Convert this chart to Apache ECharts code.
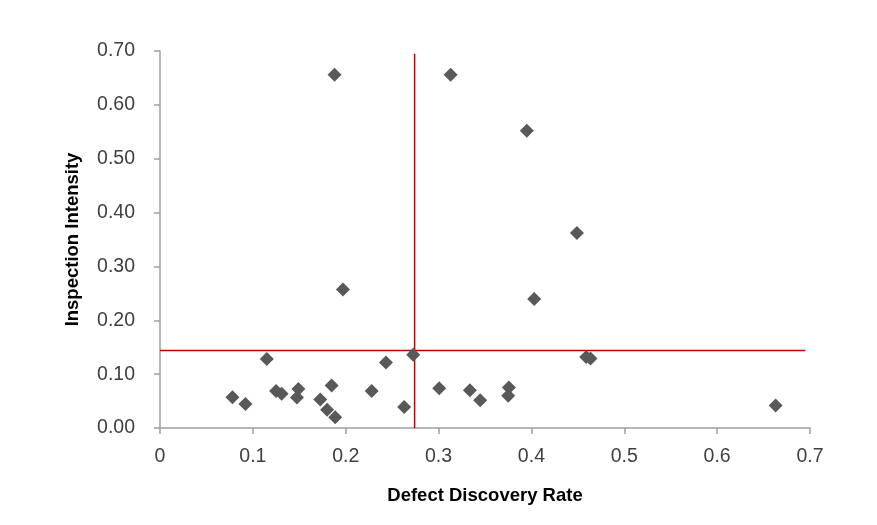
<!DOCTYPE html>
<html>
<head>
<meta charset="utf-8">
<script src="https://cdn.jsdelivr.net/npm/echarts@6/dist/echarts.min.js"></script>
<style>html,body{margin:0;padding:0;background:#fff}#c{width:877px;height:525px}</style>
</head>
<body>
<div id="c"></div>
<script>
const defectRate = [0.188,0.313,0.395,0.449,0.197,0.403,
  0.115,0.078,0.092,0.125,0.131,0.149,0.1475,0.1726,0.1848,0.180,0.1887,0.228,0.2433,0.263,0.2727,0.3007,
  0.3337,0.3448,0.3757,0.375,0.459,0.4636,0.663];
const inspectionIntensity = [0.656,0.656,0.552,0.362,0.257,0.2395,
  0.128,0.057,0.0446,0.0687,0.0638,0.0725,0.0564,0.0527,0.0787,0.034,0.0199,0.0687,0.1214,0.039,0.136,0.0737,
  0.070,0.0514,0.075,0.060,0.132,0.129,0.042];
const hLineX = [0, 0.695];
const hLineY = [0.1437, 0.1437];
const vLineX = [0.2742, 0.2742];
const vLineY = [0, 0.695];
const xTitle = 'Defect Discovery Rate';
const yTitle = 'Inspection Intensity';

const pts = defectRate.map((x,i)=>[x, inspectionIntensity[i]]);
const chart = echarts.init(document.getElementById('c'), null, {renderer:'canvas'});
const axisFont = 'Liberation Sans';
chart.setOption({
  animation:false,
  grid:{left:160,right:67,top:51,bottom:97,containLabel:false},
  xAxis:{type:'value',min:0,max:0.7,interval:0.1,
    name:xTitle,nameLocation:'middle',nameGap:58,
    nameTextStyle:{fontFamily:axisFont,fontWeight:'bold',fontSize:18.5,color:'#000'},
    axisLine:{show:true,lineStyle:{color:'#a0a0a0',width:1.5}},
    axisTick:{show:true,length:6,lineStyle:{color:'#a0a0a0',width:1.5}},
    splitLine:{show:false},
    axisLabel:{fontFamily:axisFont,fontSize:19.5,color:'#404040',margin:19,
      formatter:v=>String(+v.toFixed(1))}},
  yAxis:{type:'value',min:0,max:0.7,interval:0.1,
    name:yTitle,nameLocation:'middle',nameGap:78,nameRotate:90,
    nameTextStyle:{fontFamily:axisFont,fontWeight:'bold',fontSize:18.5,color:'#000'},
    axisLine:{show:true,lineStyle:{color:'#a0a0a0',width:1.5}},
    axisTick:{show:true,length:6,lineStyle:{color:'#a0a0a0',width:1.5}},
    splitLine:{show:false},
    axisLabel:{fontFamily:axisFont,fontSize:19.5,color:'#404040',margin:25,
      formatter:v=>v.toFixed(2)}},
  series:[
    {type:'line',data:hLineX.map((x,i)=>[x,hLineY[i]]),symbol:'none',
      lineStyle:{color:'#c00000',width:1.5},z:1},
    {type:'line',data:vLineX.map((x,i)=>[x,vLineY[i]]),symbol:'none',
      lineStyle:{color:'#c00000',width:1.5},z:1},
    {type:'scatter',data:pts,symbol:'diamond',symbolSize:14,
      itemStyle:{color:'#595959',opacity:1},z:3}
  ]
});
</script>
</body>
</html>
